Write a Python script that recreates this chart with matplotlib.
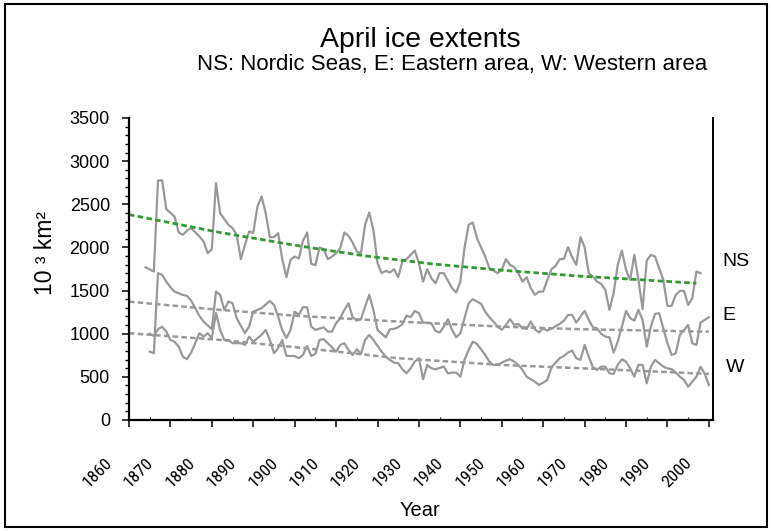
import matplotlib
matplotlib.use("Agg")
import matplotlib.pyplot as plt
from matplotlib.patches import Rectangle
from matplotlib.ticker import MultipleLocator
from matplotlib.transforms import ScaledTranslation

plt.rcParams["font.family"] = ["Liberation Sans", "DejaVu Sans"]
NARROW = ["Roboto Condensed", "Open Sans Condensed", "Liberation Sans Narrow",
          "Liberation Sans"]

# April ice extent, 10^3 km2
ns_years = [1864, 1866, 1867, 1868, 1869, 1871, 1872, 1873, 1874, 1875, 1877, 1878,
            1879, 1880, 1881, 1882, 1884, 1885, 1886, 1887, 1888, 1889, 1890, 1891,
            1892, 1893, 1894, 1895, 1896, 1897, 1898, 1899, 1900, 1901, 1902, 1903,
            1904, 1905, 1906, 1907, 1908, 1909, 1910, 1911, 1912, 1913, 1914, 1915,
            1916, 1917, 1918, 1919, 1920, 1921, 1922, 1923, 1924, 1925, 1926, 1927,
            1929, 1930, 1931, 1932, 1933, 1934, 1935, 1936, 1938, 1939, 1940, 1941,
            1942, 1943, 1944, 1946, 1947, 1949, 1950, 1951, 1952, 1953, 1954, 1955,
            1956, 1957, 1958, 1959, 1960, 1961, 1962, 1963, 1964, 1965, 1966, 1967,
            1968, 1969, 1970, 1971, 1972, 1973, 1974, 1975, 1976, 1977, 1978, 1979,
            1980, 1981, 1982, 1983, 1984, 1985, 1986, 1987, 1989, 1990, 1991, 1992,
            1993, 1994, 1995, 1996, 1997, 1998]
ns_vals = [1770, 1720, 2776, 2776, 2444, 2358, 2173, 2146, 2196, 2224, 2127, 2069,
           1933, 1980, 2746, 2398, 2262, 2224, 2146, 1864, 2030, 2185, 2166, 2474,
           2590, 2398, 2119, 2119, 2166, 1864, 1655, 1856, 1894, 1872, 2076, 2173,
           1810, 1794, 2000, 1980, 1864, 1894, 1933, 1991, 2173, 2134, 2057, 1952,
           1933, 2262, 2405, 2204, 1818, 1702, 1728, 1709, 1748, 1655, 1836, 1864,
           1964, 1818, 1604, 1748, 1643, 1585, 1702, 1702, 1528, 1477, 1604, 1991,
           2262, 2289, 2108, 1894, 1760, 1702, 1740, 1864, 1798, 1771, 1702, 1604,
           1655, 1528, 1450, 1488, 1488, 1624, 1748, 1786, 1864, 1868, 2003, 1887,
           1798, 2119, 2003, 1702, 1663, 1604, 1578, 1508, 1276, 1470, 1798, 1964,
           1740, 1624, 1914, 1624, 1284, 1848, 1914, 1894, 1624, 1322, 1322, 1450,
           1496, 1496, 1334, 1411, 1720, 1702]

e_years = [1865, 1866, 1867, 1868, 1869, 1870, 1871, 1873, 1874, 1875, 1876, 1877,
           1878, 1880, 1881, 1882, 1883, 1884, 1885, 1886, 1888, 1889, 1890, 1891,
           1892, 1894, 1895, 1896, 1897, 1898, 1899, 1900, 1901, 1902, 1903, 1904,
           1905, 1907, 1908, 1909, 1910, 1911, 1912, 1913, 1914, 1915, 1916, 1917,
           1918, 1919, 1920, 1922, 1923, 1924, 1925, 1926, 1927, 1928, 1929, 1930,
           1931, 1933, 1934, 1935, 1936, 1937, 1938, 1939, 1940, 1941, 1942, 1943,
           1945, 1946, 1947, 1948, 1949, 1950, 1951, 1952, 1953, 1954, 1955, 1956,
           1957, 1958, 1959, 1960, 1961, 1962, 1964, 1965, 1966, 1967, 1968, 1969,
           1970, 1971, 1972, 1973, 1974, 1975, 1976, 1977, 1978, 1979, 1980, 1981,
           1982, 1983, 1984, 1985, 1986, 1987, 1988, 1989, 1990, 1991, 1992, 1993,
           1994, 1995, 1996, 1997, 1998, 2000]
e_vals = [792, 773, 1702, 1682, 1604, 1539, 1488, 1450, 1438, 1384, 1296, 1206,
          1141, 1052, 1488, 1450, 1276, 1372, 1353, 1180, 1006, 1082, 1256, 1276,
          1296, 1380, 1334, 1198, 1044, 948, 1044, 1256, 1218, 1307, 1307, 1082,
          1044, 1075, 1024, 1024, 1122, 1180, 1276, 1353, 1191, 1152, 1168, 1314,
          1450, 1276, 1044, 959, 1052, 1056, 1075, 1110, 1210, 1191, 1264, 1238,
          1129, 1122, 1032, 1013, 1082, 1168, 1044, 959, 1006, 1180, 1353, 1400,
          1346, 1256, 1191, 1141, 1082, 1044, 1102, 1168, 1102, 1114, 1063, 1056,
          1141, 1052, 1013, 1063, 1036, 1060, 1114, 1152, 1218, 1218, 1129, 1198,
          1264, 1160, 1075, 1063, 998, 966, 959, 781, 908, 1082, 1264, 1180,
          1152, 1276, 1160, 850, 1082, 1230, 1238, 1063, 890, 754, 773, 986,
          1044, 1102, 890, 870, 1129, 1191]

w_years = [1865, 1866, 1867, 1868, 1869, 1870, 1871, 1872, 1873, 1874, 1875, 1876,
           1877, 1878, 1879, 1880, 1881, 1882, 1883, 1884, 1885, 1887, 1888, 1889,
           1890, 1891, 1892, 1893, 1894, 1895, 1896, 1897, 1898, 1900, 1901, 1902,
           1903, 1904, 1905, 1906, 1907, 1909, 1910, 1911, 1912, 1913, 1914, 1915,
           1916, 1917, 1918, 1919, 1921, 1922, 1923, 1924, 1925, 1926, 1927, 1928,
           1929, 1930, 1931, 1932, 1933, 1934, 1936, 1937, 1938, 1939, 1940, 1941,
           1942, 1943, 1944, 1945, 1946, 1947, 1948, 1949, 1950, 1951, 1952, 1953,
           1954, 1955, 1956, 1958, 1959, 1960, 1961, 1962, 1963, 1964, 1965, 1966,
           1967, 1968, 1969, 1970, 1971, 1972, 1973, 1974, 1975, 1976, 1977, 1978,
           1979, 1980, 1981, 1982, 1983, 1984, 1985, 1986, 1987, 1988, 1989, 1990,
           1991, 1992, 1993, 1994, 1995, 1996, 1997, 1998, 1999, 2000]
w_vals = [998, 974, 1052, 1082, 1024, 928, 908, 850, 734, 704, 781, 890,
          1006, 966, 1006, 948, 1240, 1044, 928, 928, 890, 890, 870, 966,
          908, 948, 986, 1044, 928, 773, 832, 928, 742, 742, 716, 754,
          858, 742, 766, 928, 936, 843, 792, 870, 890, 812, 754, 820,
          766, 928, 986, 928, 792, 734, 696, 665, 658, 588, 541, 600,
          676, 716, 472, 638, 600, 588, 618, 541, 549, 549, 502, 696,
          812, 908, 882, 820, 754, 676, 638, 638, 665, 688, 704, 676,
          638, 580, 502, 444, 406, 433, 464, 611, 665, 716, 742, 781,
          804, 716, 696, 870, 734, 611, 580, 618, 618, 541, 534, 638,
          704, 676, 600, 502, 638, 638, 425, 618, 696, 658, 618, 600,
          588, 549, 502, 464, 386, 444, 502, 618, 534, 406]

# fitted trend curves as drawn in the original
ns_trend_years = [1860, 1882, 1901, 1917, 1933, 1949, 1968, 1984, 1997]
ns_trend_vals = [2380, 2173, 2018, 1902, 1810, 1740, 1670, 1624, 1585]
e_trend_years = [1860, 1882, 1901, 1925, 1950, 1969, 2000]
e_trend_vals = [1372, 1276, 1206, 1141, 1082, 1052, 1024]
w_trend_years = [1860, 1882, 1901, 1925, 1950, 1969, 2000]
w_trend_vals = [1006, 928, 840, 716, 638, 600, 534]

year_ticks = list(range(1860, 2001, 10))

W_PX, H_PX = 772, 531
fig = plt.figure(figsize=(W_PX / 100, H_PX / 100), dpi=100)

# axes box in pixels: left 129, right 713, top 118, bottom 420
ax = fig.add_axes([129 / W_PX, 1 - 420 / H_PX, (713 - 129) / W_PX, (420 - 118) / H_PX])

line_grey = "#999999"
for yrs, vals in [(ns_years, ns_vals), (e_years, e_vals), (w_years, w_vals)]:
    ax.plot(yrs, vals, color=line_grey, lw=1.6, solid_joinstyle="round")

ax.plot(e_trend_years, e_trend_vals, color="#999999", lw=1.8, ls=(0, (2.2, 1.3)))
ax.plot(w_trend_years, w_trend_vals, color="#999999", lw=1.8, ls=(0, (2.2, 1.3)))
ax.plot(ns_trend_years, ns_trend_vals, color="#339933", lw=2.0, ls=(0, (2.0, 1.2)))

ax.set_xlim(1860, 2001)
ax.set_ylim(0, 3500)
ax.set_xticks(year_ticks)
ax.set_xticklabels([str(y) for y in year_ticks])
ax.xaxis.set_minor_locator(MultipleLocator(5))
ax.yaxis.set_major_locator(MultipleLocator(500))
ax.yaxis.set_minor_locator(MultipleLocator(100))

for side in ["left", "bottom"]:
    ax.spines[side].set_linewidth(1.6)
ax.spines["right"].set_linewidth(1.4)
ax.spines["top"].set_visible(False)

ax.tick_params(axis="y", which="major", direction="out", length=4.7, width=1.1,
               labelsize=13, pad=9)
ax.tick_params(axis="y", which="minor", direction="out", length=2.6, width=1.0)
ax.tick_params(axis="x", which="major", direction="out", length=5, width=1.1,
               labelsize=12.5, pad=20)
ax.tick_params(axis="x", which="minor", direction="in", length=2, width=0.8)

# rotated year labels, ending a little left of their tick
shift = ScaledTranslation(-0.14, 0, fig.dpi_scale_trans)
for lab in ax.get_xticklabels():
    lab.set_family(NARROW)
    lab.set_rotation(45)
    lab.set_ha("right")
    lab.set_va("top")
    lab.set_transform(lab.get_transform() + shift)

# titles and labels (positions in pixels from the top-left corner)
def px(x, y):
    return x / W_PX, 1 - y / H_PX

fig.text(*px(420, 40), "April ice extents", ha="center", va="center", fontsize=20.5)
fig.text(*px(452, 65), "NS: Nordic Seas, E: Eastern area, W: Western area",
         ha="center", va="center", fontsize=16)
fig.text(*px(45, 253), "10 ³ km²", rotation=90, ha="center", va="center",
         fontsize=16.5)
fig.text(*px(420, 510), "Year", ha="center", va="center", fontsize=14.5)
fig.text(*px(722, 262), "NS", ha="left", va="center", fontsize=14)
fig.text(*px(722, 315), "E", ha="left", va="center", fontsize=14)
fig.text(*px(726, 367), "W", ha="left", va="center", fontsize=14)

# outer frame of the chart area
fig.patches.append(Rectangle((5 / W_PX, 4 / H_PX), 762 / W_PX, 523 / H_PX,
                             transform=fig.transFigure, fill=False,
                             edgecolor="black", lw=1.5))

fig.savefig("out.png", dpi=100)
